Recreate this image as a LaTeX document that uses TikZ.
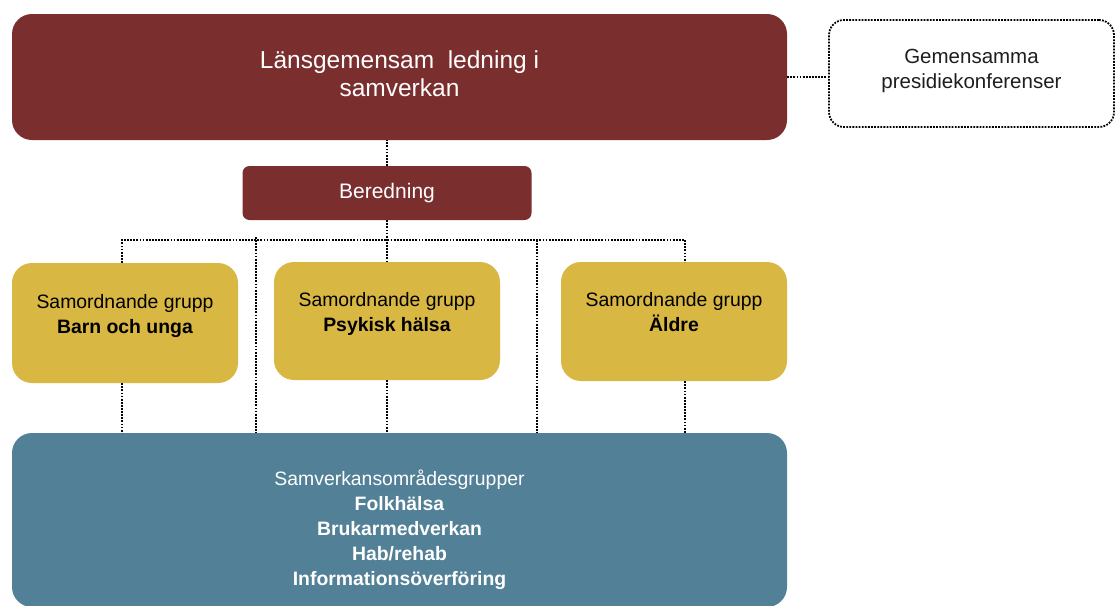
\documentclass[tikz,border=0pt]{standalone}
\usepackage{fontspec}
\setmainfont{Liberation Sans}
\definecolor{lansred}{RGB}{122,46,46}
\definecolor{groupgold}{RGB}{217,183,67}
\definecolor{areateal}{RGB}{82,128,151}
\definecolor{textgray}{RGB}{30,30,30}
\begin{document}
\begin{tikzpicture}
        [x=1pt, y=-1pt,
        box/.style={rounded corners=20pt, inner sep=0pt, align=center},
        lead/.style={box, fill=lansred, text=white, font=\fontsize{24.5}{27.5}\selectfont},
        prep/.style={box, rounded corners=7pt, fill=lansred, text=white, font=\fontsize{21}{25}\selectfont},
        group/.style={box, fill=groupgold, text=black, minimum width=226pt, font=\fontsize{19.4}{25}\selectfont, text height=39pt, text depth=19pt},
        area/.style={box, fill=areateal, text=white, font=\fontsize{19.4}{25}\selectfont},
        conf/.style={box, rounded corners=15pt, draw, link, text=textgray, font=\fontsize{20.5}{25}\selectfont},
        link/.style={black, line width=1.8pt, dash pattern=on 1.8pt off 1.3pt}]

        \useasboundingbox (0,0) rectangle (1115,605);

        % top levels
        \node[lead, minimum width=775pt, minimum height=126pt, text height=45pt, text depth=7pt] (lead) at (399.5,77) {L\"ansgemensam\ \ ledning i\\samverkan};
        \node[conf, minimum width=285pt, minimum height=107pt, text height=40pt, text depth=11pt] (conf) at (971.5,73.5) {Gemensamma\\presidiekonferenser};
        \node[prep, minimum width=289pt, minimum height=54pt] (prep) at (387,193) {Beredning};

        % samordnande grupper
        \node[group, minimum height=120pt] (barn) at (125,323) {Samordnande grupp\\\textbf{Barn och unga}};
        \node[group, minimum height=118pt] (psyk) at (387,321) {Samordnande grupp\\\textbf{Psykisk h\"alsa}};
        \node[group, minimum height=119pt] (aldre) at (674,321.5) {Samordnande grupp\\\textbf{\"Aldre}};

        % samverkansomraden
        \node[area, minimum width=775pt, minimum height=174pt, text height=134pt, text depth=4pt] (area) at (399.5,520)
            {Samverkansomr\aa desgrupper\\\textbf{Folkh\"alsa}\\\textbf{Brukarmedverkan}\\\textbf{Hab/rehab}\\\textbf{Informations\"overf\"oring}};

        % bus coordinates
        \coordinate (busL) at (122,240);
        \coordinate (busR) at (685,240);
        \coordinate (dropA) at (256,237);
        \coordinate (dropB) at (537,240);

        % dotted links
        \draw[link] (lead.east) -- (lead.east -| conf.west);
        \draw[link] (prep.north) -- (prep.north |- lead.south);
        \draw[link] (prep.south) -- (psyk.north);
        \draw[link] (barn.north -| busL) -- (busL) -- (busR) -- (aldre.north -| busR);
        \draw[link] (dropA) -- (dropA |- area.north);
        \draw[link] (dropB) -- (dropB |- area.north);
        \draw[link] (barn.south -| busL) -- (area.north -| busL);
        \draw[link] (psyk.south) -- (area.north -| psyk.south);
        \draw[link] (aldre.south -| busR) -- (area.north -| busR);

\end{tikzpicture}
\end{document}
